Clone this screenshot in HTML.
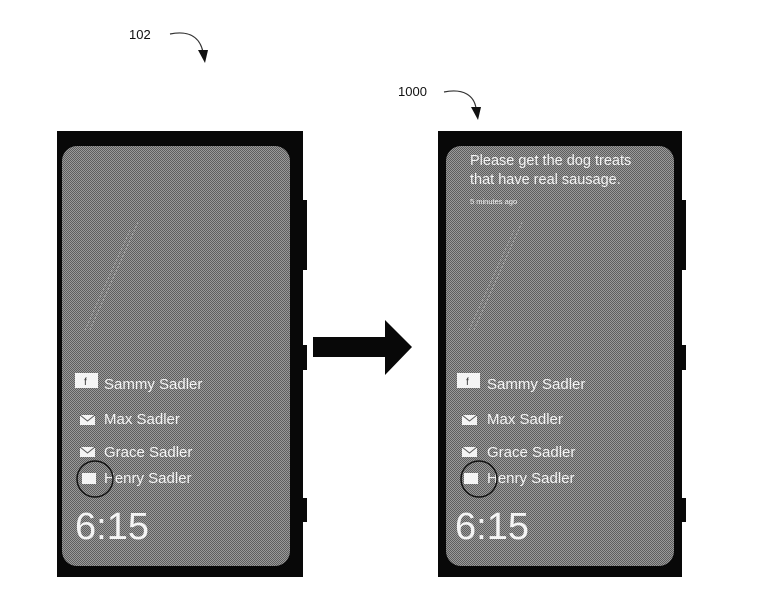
<!DOCTYPE html>
<html><head><meta charset="utf-8"><style>
html,body{margin:0;padding:0;background:#fff;}
svg{display:block;}
text{font-family:"Liberation Sans",Arial,sans-serif;}
</style></head><body>
<svg width="761" height="607" viewBox="0 0 761 607" xmlns="http://www.w3.org/2000/svg">
<defs>
<pattern id="chk" width="2" height="2" patternUnits="userSpaceOnUse">
<rect width="2" height="2" fill="#9a9a9a"/>
<rect width="1" height="1" fill="#5e5e5e"/>
<rect x="1" y="1" width="1" height="1" fill="#5e5e5e"/>
</pattern>
</defs>

<!-- labels -->
<text x="129" y="39" font-size="13" fill="#111">102</text>
<path d="M170 34 C190 30 200 38 203 52" fill="none" stroke="#333" stroke-width="1.2"/>
<polygon points="198,50 208,50 205,63" fill="#111"/>
<text x="398" y="96" font-size="13" fill="#111">1000</text>
<path d="M444 92 C464 88 474 96 476 108" fill="none" stroke="#333" stroke-width="1.2"/>
<polygon points="471,107 481,107 478,120" fill="#111"/>

<!-- left phone -->
<rect x="57" y="131" width="246" height="446" fill="#080808"/>
<rect x="303" y="200" width="4" height="70" fill="#080808"/>
<rect x="303" y="345" width="4" height="25" fill="#080808"/>
<rect x="303" y="498" width="4" height="24" fill="#080808"/>
<rect x="62" y="146" width="228" height="420" rx="15" fill="url(#chk)"/>
<path d="M85 330 L130 230 M90 330 L138 222" stroke="#c8c8c8" stroke-width="0.8" stroke-dasharray="2 2" opacity="0.7"/>

<!-- right phone -->
<rect x="438" y="131" width="244" height="446" fill="#080808"/>
<rect x="682" y="200" width="4" height="70" fill="#080808"/>
<rect x="682" y="345" width="4" height="25" fill="#080808"/>
<rect x="682" y="498" width="4" height="24" fill="#080808"/>
<rect x="446" y="146" width="228" height="420" rx="15" fill="url(#chk)"/>
<path d="M469 330 L514 230 M474 330 L522 222" stroke="#c8c8c8" stroke-width="0.8" stroke-dasharray="2 2" opacity="0.7"/>

<!-- big arrow -->
<polygon points="313,337 385,337 385,320 412,347 385,375 385,357 313,357" fill="#080808"/>

<!-- left contents -->
<g fill="#f4f4f4">
<rect x="75" y="373" width="23" height="15"/>
<text x="84" y="385" font-size="10" fill="#333">f</text>
<text x="104" y="389" font-size="15">Sammy Sadler</text>
<rect x="80" y="415" width="15" height="10"/>
<path d="M80 415 L87.5 421 L95 415" stroke="#555" fill="none" stroke-width="1"/>
<text x="104" y="424" font-size="15">Max Sadler</text>
<rect x="80" y="447" width="15" height="10"/>
<path d="M80 447 L87.5 453 L95 447" stroke="#555" fill="none" stroke-width="1"/>
<text x="104" y="457" font-size="15">Grace Sadler</text>
<rect x="82" y="473" width="14" height="11"/>
<text x="104" y="483" font-size="15">Henry Sadler</text>
<text x="75" y="539" font-size="38">6:15</text>
</g>
<circle cx="95" cy="479" r="18" fill="none" stroke="#111" stroke-width="1.5"/>

<!-- right contents -->
<g fill="#f4f4f4">
<text x="470" y="165" font-size="14.5">Please get the dog treats</text>
<text x="470" y="184" font-size="14.5">that have real sausage.</text>
<text x="470" y="204" font-size="7.5">5 minutes ago</text>
<rect x="457" y="373" width="23" height="15"/>
<text x="466" y="385" font-size="10" fill="#333">f</text>
<text x="487" y="389" font-size="15">Sammy Sadler</text>
<rect x="462" y="415" width="15" height="10"/>
<path d="M462 415 L469.5 421 L477 415" stroke="#555" fill="none" stroke-width="1"/>
<text x="487" y="424" font-size="15">Max Sadler</text>
<rect x="462" y="447" width="15" height="10"/>
<path d="M462 447 L469.5 453 L477 447" stroke="#555" fill="none" stroke-width="1"/>
<text x="487" y="457" font-size="15">Grace Sadler</text>
<rect x="464" y="473" width="14" height="11"/>
<text x="487" y="483" font-size="15">Henry Sadler</text>
<text x="455" y="539" font-size="38">6:15</text>
</g>
<circle cx="479" cy="479" r="18" fill="none" stroke="#111" stroke-width="1.5"/>
</svg>
</body></html>
